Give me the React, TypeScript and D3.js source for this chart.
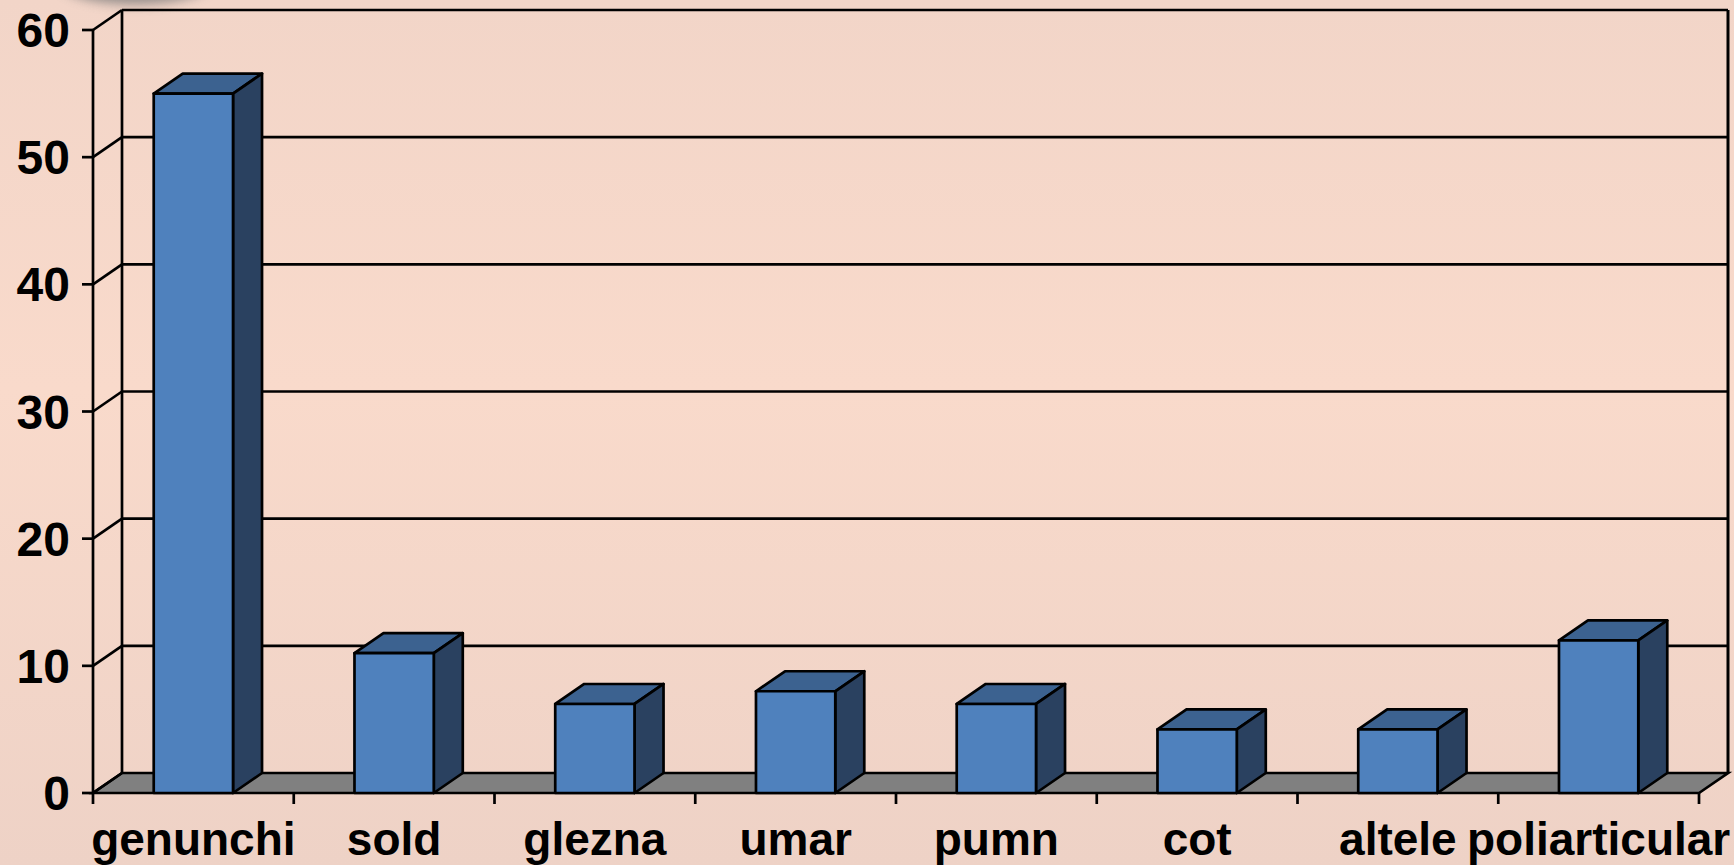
import React from "react";
import * as d3 from "d3";

const categories = ["genunchi", "sold", "glezna", "umar", "pumn", "cot", "altele", "poliarticular"];
const values = [55, 11, 7, 8, 7, 5, 5, 12];
const yTicks = [0, 10, 20, 30, 40, 50, 60];

const W = 1734;
const H = 865;
const FONT = "'Liberation Sans', Arial, sans-serif";
const SW = 2.7;

const App: React.FC = () => {
	const left = 93;
	const right = 1699;
	const bottom = 793;
	const top = 30;
	const dx = 29;
	const dy = -20;

	const x = d3.scaleBand().domain(categories).range([left, right]).paddingInner(0).paddingOuter(0);
	const y = d3.scaleLinear().domain([0, 60]).range([bottom, top]);
	const barW = x.bandwidth() * 0.395;

	const line = d3.line<[number, number]>();

	return (
		<svg width={W} height={H} style={{ position: "absolute", left: 0, top: 0 }}>
			<defs>
				<linearGradient id="bg" x1="0" y1="0" x2="0" y2="1">
					<stop offset="0" stopColor="#f2d5c8" />
					<stop offset="0.45" stopColor="#f9dacb" />
					<stop offset="1" stopColor="#eed2c6" />
				</linearGradient>
				<filter id="blur" x="-50%" y="-50%" width="200%" height="200%">
					<feGaussianBlur stdDeviation="6" />
				</filter>
			</defs>
			<rect width={W} height={H} fill="url(#bg)" />
			<ellipse cx={135} cy={-18} rx={75} ry={22} fill="#777" filter="url(#blur)" opacity={0.8} />

			{/* floor */}
			<path
				d={line([[left, bottom], [right, bottom], [right + dx, bottom + dy], [left + dx, bottom + dy]])! + "Z"}
				fill="#808080"
				stroke="#000"
				strokeWidth={SW}
			/>

			{/* back wall gridlines and side wall */}
			{yTicks.map((t) => (
				<g key={t}>
					{t > 0 && (
						<line x1={left + dx} x2={right + dx} y1={y(t) + dy} y2={y(t) + dy} stroke="#000" strokeWidth={SW} />
					)}
					<line x1={left} y1={y(t)} x2={left + dx} y2={y(t) + dy} stroke="#000" strokeWidth={SW} />
					<line x1={left - 11} x2={left} y1={y(t)} y2={y(t)} stroke="#000" strokeWidth={SW} />
					<text
						x={70}
						y={y(t) + 17}
						textAnchor="end"
						fontFamily={FONT}
						fontWeight="bold"
						fontSize={48}
						fill="#000"
					>
						{t}
					</text>
				</g>
			))}
			<line x1={left + dx} x2={left + dx} y1={y(60) + dy} y2={bottom + dy} stroke="#000" strokeWidth={SW} />
			<line x1={right + dx} x2={right + dx} y1={y(60) + dy} y2={bottom + dy} stroke="#000" strokeWidth={3} />
			<line x1={left} x2={left} y1={y(60)} y2={bottom} stroke="#000" strokeWidth={SW} />

			{/* x ticks */}
			{d3.range(categories.length + 1).map((i) => {
				const xx = left + i * x.bandwidth();
				return <line key={i} x1={xx} x2={xx} y1={bottom} y2={bottom + 11} stroke="#000" strokeWidth={SW} />;
			})}

			{/* bars */}
			{categories.map((c, i) => {
				const x0 = x(c)! + (x.bandwidth() - barW) / 2;
				const x1 = x0 + barW;
				const yv = y(values[i]);
				return (
					<g key={c} stroke="#000" strokeWidth={SW} strokeLinejoin="round">
						<path d={line([[x0, yv], [x1, yv], [x1 + dx, yv + dy], [x0 + dx, yv + dy]])! + "Z"} fill="#3c6290" />
						<path d={line([[x1, yv], [x1 + dx, yv + dy], [x1 + dx, bottom + dy], [x1, bottom]])! + "Z"} fill="#2a4160" />
						<rect x={x0} y={yv} width={barW} height={bottom - yv} fill="#4f81bd" />
					</g>
				);
			})}

			{/* category labels */}
			{categories.map((c) => (
				<text
					key={c}
					x={x(c)! + x.bandwidth() / 2}
					y={855}
					textAnchor="middle"
					fontFamily={FONT}
					fontWeight="bold"
					fontSize={46}
					fill="#000"
				>
					{c}
				</text>
			))}
		</svg>
	);
};

export default App;
